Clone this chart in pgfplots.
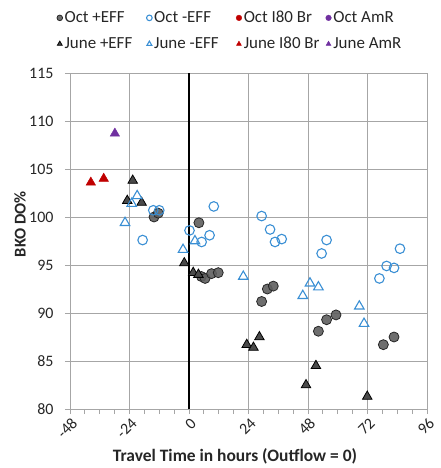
\documentclass[border=0pt]{standalone}
\usepackage{pgfplots}
\pgfplotsset{compat=1.18}
\usepackage{fontspec}
\setmainfont{Carlito}
\definecolor{effblue}{HTML}{3A8FD4}
\definecolor{brred}{HTML}{C00000}
\definecolor{amrpurple}{HTML}{7030A0}
\definecolor{gridgray}{HTML}{A6A6A6}
\definecolor{circgray}{HTML}{5E5E5E}
\definecolor{trigray}{HTML}{4A4A4A}
\definecolor{txt}{HTML}{262626}
\begin{document}
\begin{tikzpicture}
\useasboundingbox (-70bp,-59bp) rectangle (371bp,409bp);
\begin{axis}[
  at={(0,0)}, anchor=south west,
  scale only axis, width=357bp, height=336bp,
  xmin=-48, xmax=96, ymin=80, ymax=115,
  xtick={-48,-24,...,96}, ytick={80,85,...,115},
  minor x tick num=3,
  grid=major,
  major grid style={draw=gridgray, line width=0.9bp},
  axis line style={draw=gridgray, line width=0.9bp},
  tick style={draw=gridgray, line width=0.9bp},
  tick align=outside, tick pos=left,
  major tick length=5bp, minor tick length=5bp,
  /pgf/number format/assume math mode=true,
  ticklabel style={font=\fontsize{16}{18}\selectfont, text=txt},
  xticklabel style={rotate=45, anchor=east, xshift=2bp, yshift=-8bp},
  yticklabel style={xshift=-8bp},
  xlabel={Travel Time in hours (Outflow = 0)},
  xlabel style={font=\fontsize{17.5}{20}\selectfont\bfseries, text=txt, at={(axis description cs:0.462,-0.14)}, anchor=center},
  ylabel={BKO DO\%},
  ylabel style={font=\fontsize{16.5}{19}\selectfont\bfseries, text=txt, at={(axis description cs:-0.14,0.55)}, anchor=center},
  legend columns=4,
  legend style={at={(axis description cs:-0.037,1.19)}, anchor=north west, draw=none, fill=none,
    font=\fontsize{17}{19}\selectfont, text=txt, row sep=9bp, inner sep=0pt,
    /tikz/every even column/.append style={column sep=0bp}},
  legend cell align=left,
  legend image code/.code={\draw[mark repeat=2,mark phase=2,#1] plot coordinates {(0bp,0bp) (5bp,0bp) (14bp,0bp)};},
  legend image post style={mark size=2.8bp},
]
% Oct +EFF
\addplot[only marks, mark=*, mark size=5bp, mark options={fill=circgray, draw=black!85, line width=0.8bp, fill opacity=0.9}] coordinates {
(-14.1,100.0) (-12.4,100.4) (4.0,99.4) (5.0,93.8) (6.5,93.6) (9.1,94.1) (11.8,94.2)
(29.3,91.2) (31.6,92.5) (34.0,92.8) (52.2,88.1) (55.5,89.3) (59.3,89.8) (78.4,86.7) (82.7,87.5)};
\addlegendentry{\makebox[80bp][l]{Oct +EFF}}
% Oct -EFF
\addplot[only marks, mark=o, mark size=4.8bp, mark options={draw=effblue, line width=1.1bp}] coordinates {
(-14.4,100.7) (-12.0,100.7) (-18.7,97.6) (0.2,98.6) (5.1,97.4) (8.3,98.1) (10.0,101.1)
(29.3,100.1) (32.7,98.7) (34.7,97.4) (37.4,97.7) (53.5,96.2) (55.5,97.6)
(76.8,93.6) (79.7,94.9) (82.7,94.7) (85.1,96.7)};
\addlegendentry{\makebox[80bp][l]{Oct -EFF}}
\addlegendimage{only marks, mark=*, mark options={fill=brred, draw=brred}}
\addlegendentry{\makebox[80bp][l]{Oct I80 Br}}
\addlegendimage{only marks, mark=*, mark options={fill=amrpurple, draw=amrpurple}}
\addlegendentry{Oct AmR}
% June +EFF
\addplot[only marks, mark=triangle*, mark size=5.5bp, mark options={fill=trigray, draw=black, line width=0.8bp}] coordinates {
(-22.7,103.8) (-24.9,101.7) (-19.1,101.5) (-1.9,95.2) (1.7,94.2) (3.8,94.0)
(23.3,86.7) (26.0,86.4) (28.4,87.5) (47.2,82.5) (51.2,84.5) (71.9,81.3)};
\addlegendentry{June +EFF}
% June -EFF
\addplot[only marks, mark=triangle, mark size=5.5bp, mark options={draw=effblue, line width=1.1bp}] coordinates {
(-25.8,99.4) (-20.9,102.2) (-23.1,101.4) (-2.4,96.6) (2.4,97.5)
(21.9,93.8) (45.9,91.8) (48.8,93.1) (52.2,92.7) (68.7,90.7) (70.6,88.9)};
\addlegendentry{June -EFF}
% June I80 Br
\addplot[only marks, mark=triangle*, mark size=5.5bp, mark options={fill=brred, draw=brred}] coordinates {
(-39.6,103.6) (-34.4,104.0)};
\addlegendentry{June I80 Br}
% June AmR
\addplot[only marks, mark=triangle*, mark size=5.5bp, mark options={fill=amrpurple, draw=amrpurple}] coordinates {
(-29.9,108.7)};
\addlegendentry{June AmR}
% zero line
\addplot[black, line width=2.6bp, forget plot] coordinates {(0,80) (0,115)};
\end{axis}
\end{tikzpicture}
\end{document}
